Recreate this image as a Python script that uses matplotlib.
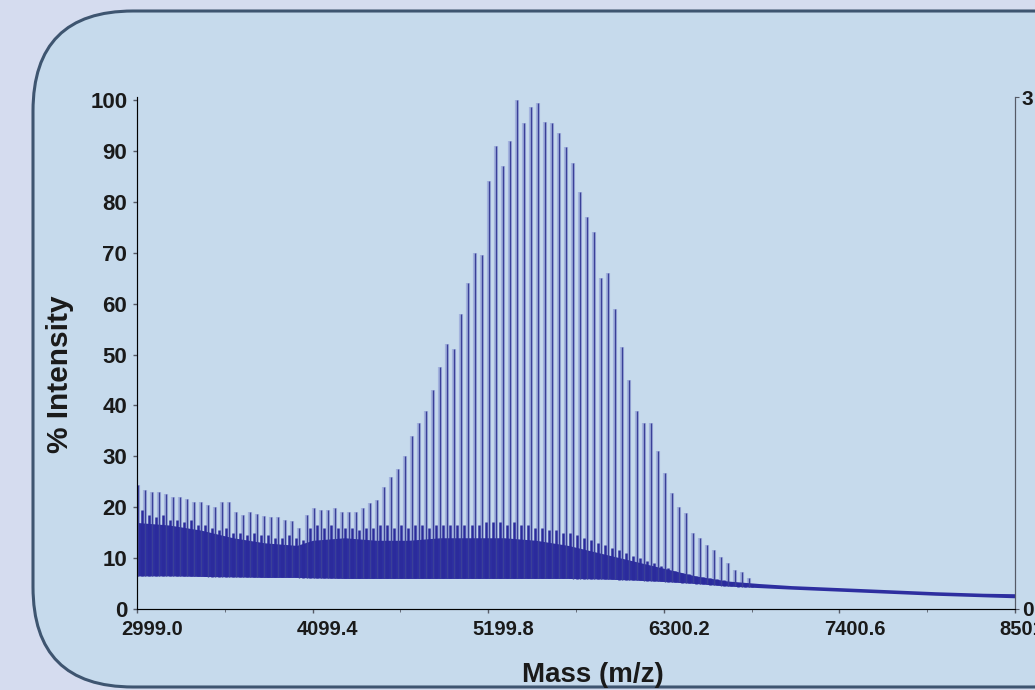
import numpy as np
import matplotlib
matplotlib.use('Agg')
import matplotlib.pyplot as plt
from matplotlib.patches import FancyBboxPatch
from matplotlib.transforms import IdentityTransform, ScaledTranslation

plt.rcParams['font.family'] = ['Liberation Sans', 'DejaVu Sans']
plt.rcParams['font.weight'] = 'bold'

# main oligomer series: first peak m/z and repeat unit (44 Da), heights in %
peak_first = 3005.0
peak_step = 44.0
peak_heights = [
    24.4, 23.4, 23.0, 23.0, 22.5, 22.0, 22.0, 21.6, 21.0, 21.0,
    20.5, 20.0, 21.0, 21.0, 19.0, 18.5, 19.0, 18.7, 18.2, 18.0,
    18.0, 17.5, 17.3, 16.0, 18.5, 19.8, 19.5, 19.5, 19.8, 19.0,
    19.0, 19.0, 19.8, 20.8, 21.4, 24.0, 26.0, 27.5, 30.0, 34.0,
    36.5, 39.0, 43.0, 47.5, 52.0, 51.0, 58.0, 64.0, 70.0, 69.5,
    84.0, 91.0, 87.0, 92.0, 100.0, 95.5, 98.6, 99.4, 95.7, 95.5,
    93.5, 90.8, 87.6, 82.0, 77.0, 74.0, 65.0, 66.0, 59.0, 51.5,
    45.0, 39.0, 36.5, 36.5, 31.0, 26.7, 22.8, 20.0, 18.8, 15.0,
    14.0, 12.5, 11.6, 10.2, 9.0, 7.7, 7.3, 6.1,
]
peak_mz = peak_first + peak_step * np.arange(len(peak_heights))

# weaker series sitting between the main peaks (half a repeat unit later)
minor_heights = [
    19.5, 18.5, 18.0, 18.5, 17.5, 17.5, 17.0, 17.5, 16.5, 16.5,
    16.0, 15.5, 16.0, 15.0, 15.0, 14.5, 15.0, 14.5, 14.5, 14.0,
    14.0, 14.5, 14.0, 13.5, 16.0, 16.5, 16.0, 16.5, 16.0, 16.0,
    16.0, 15.5, 16.0, 16.0, 16.5, 16.5, 16.0, 16.5, 16.0, 16.5,
    16.5, 16.0, 16.5, 16.5, 16.5, 16.5, 16.5, 16.5, 16.5, 17.0,
    17.0, 17.0, 16.5, 17.0, 16.5, 16.5, 16.0, 16.0, 15.5, 15.5,
    15.0, 15.0, 14.5, 14.0, 13.5, 13.0, 12.5, 12.0, 11.5, 11.0,
    10.5, 10.0, 9.5, 9.0, 8.5, 8.0, 7.5, 7.0, 6.8, 6.5,
    6.2, 6.0, 5.8, 5.6, 5.4, 5.2, 5.0, 4.8,
]
minor_mz = peak_mz + peak_step / 2

# dense background (unresolved) band: m/z, lower and upper edge in %
band_mz = [2999, 3200, 3400, 3600, 3800, 4000, 4100, 4300, 4500, 4700,
           4900, 5100, 5300, 5500, 5700, 5900, 6100, 6300, 6500, 6700,
           6900, 7100, 7400, 7700, 8000, 8300, 8501]
band_low = [6.5, 6.5, 6.4, 6.3, 6.2, 6.2, 6.1, 6.0, 6.0, 6.0,
            6.0, 6.0, 6.0, 6.0, 6.0, 5.9, 5.7, 5.4, 5.0, 4.5,
            4.2, 3.9, 3.5, 3.1, 2.7, 2.4, 2.2]
band_high = [17.0, 16.5, 15.5, 14.0, 13.0, 12.5, 13.5, 14.0, 13.5, 13.5,
             14.0, 14.0, 14.0, 13.5, 12.5, 11.0, 9.5, 8.0, 6.5, 5.5,
             5.0, 4.6, 4.2, 3.8, 3.4, 3.1, 3.0]

xticks = [2999.0, 4099.4, 5199.8, 6300.2, 7400.6, 8501.0]

fig = plt.figure(figsize=(10.35, 6.9), dpi=100)
fig.patch.set_facecolor('#d5dcef')

# rounded panel behind the chart
panel = FancyBboxPatch((33, 3), 1100, 676,
                       boxstyle='round,pad=0,rounding_size=100',
                       transform=IdentityTransform(),
                       facecolor='#c6daec', edgecolor='#3e5570', linewidth=2.2,
                       zorder=-10)
fig.patches.append(panel)

ax = fig.add_axes([0.1324, 0.1174, 0.8483, 0.7420])
ax.patch.set_alpha(0)

# peaks rise from the noise floor, not from zero
peak_base = np.interp(peak_mz, band_mz, band_low)
minor_base = np.interp(minor_mz, band_mz, band_low)

ax.vlines(peak_mz, peak_base, peak_heights, color='#8c9ad6', lw=3.0, alpha=0.6, zorder=1)
ax.fill_between(band_mz, band_low, band_high, color='#2d2ea0', lw=0, zorder=2)
ax.vlines(minor_mz, minor_base, minor_heights, color='#2b2b9c', lw=1.8, zorder=2)
ax.vlines(peak_mz, peak_base, peak_heights, color='#3a4098', lw=1.0, zorder=4)

ax.set_xlim(2999, 8501)
ax.set_ylim(0, 100.6)
ax.set_yticks(range(0, 101, 10))
ax.set_xticks(xticks)
ax.set_xticks([3549.2, 4649.6, 5750.0, 6850.4, 7950.8], minor=True)
ax.set_xticklabels([f'{v:.1f}' for v in xticks])
ax.tick_params(axis='both', colors='#555a66', labelcolor='#1a1a1a', length=3, width=1)
ax.tick_params(axis='x', which='minor', length=2, colors='#555a66')
ax.tick_params(axis='y', labelsize=16, pad=4)
ax.tick_params(axis='x', labelsize=14.5, pad=5)
for lab in ax.get_xticklabels():
    lab.set_transform(lab.get_transform() + ScaledTranslation(0.15, 0, fig.dpi_scale_trans))

ax.spines['top'].set_visible(False)
for s in ['left', 'bottom', 'right']:
    ax.spines[s].set_color('#555a66')

ax2 = ax.twinx()
ax2.set_ylim(0, 3)
ax2.set_yticks([0, 3])
ax2.tick_params(axis='y', length=3, colors='#555a66', labelcolor='#1a1a1a', labelsize=15, pad=2)
ax2.spines['top'].set_visible(False)
ax2.spines['right'].set_color('#555a66')

fig.text(0.058, 0.457, '% Intensity', rotation=90, ha='center', va='center',
         fontsize=21.5, fontweight='bold', color='#1a1a1a')
fig.text(0.573, 0.022, 'Mass (m/z)', ha='center', va='center',
         fontsize=20, fontweight='bold', color='#1a1a1a')

fig.savefig('out.png', dpi=100, facecolor=fig.get_facecolor())
